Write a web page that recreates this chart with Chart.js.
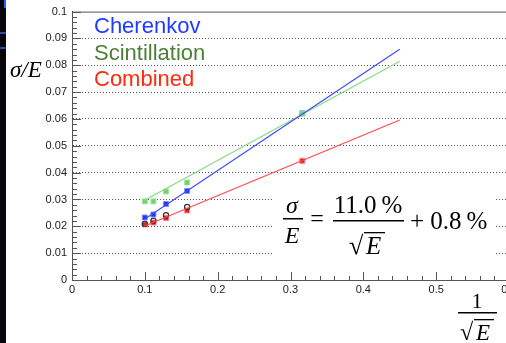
<!DOCTYPE html>
<html>
<head>
<meta charset="utf-8">
<script src="https://cdn.jsdelivr.net/npm/chart.js@4.4.1/dist/chart.umd.min.js"></script>
<style>
  html, body { margin: 0; padding: 0; background: #fff; overflow: hidden; }
  #wrap { position: relative; width: 506px; height: 343px; overflow: hidden; }
  #strip { position: absolute; left: 0; top: 0; width: 6px; height: 343px; background: #05070d; }
  .blue { position: absolute; left: 0; width: 6px; height: 2px; background: #2c4a9c; }
</style>
</head>
<body>
<div id="wrap">
  <canvas id="c" width="530" height="343"></canvas>
  <div id="strip"></div>
  <div class="blue" style="top:32px"></div>
  <div class="blue" style="top:47px"></div>
  <div class="blue" style="top:0;left:4px;width:2px;height:8px;background:#2a5cff"></div>
</div>
<script>
// 1/sqrt(E) for the measured energies
const invSqrtE = [0.1, 0.1118, 0.1291, 0.1581, 0.3162];
const cherenkov = [0.0233, 0.0244, 0.0283, 0.0332, 0.0621];
const scintillation = [0.0293, 0.0293, 0.0330, 0.0363, 0.0620];
const combined = [0.0207, 0.0214, 0.0231, 0.0259, 0.0444];
const combinedOpen = [0.0209, 0.0221, 0.0241, 0.0272, null];

// fit lines: x range and y at both ends
const fitRange = [0.099, 0.45];
const cherenkovFit = [0.0225, 0.0860];
const scintillationFit = [0.0296, 0.0815];
const combinedFit = [0.0200, 0.0596];

const xTicks = [0, 0.1, 0.2, 0.3, 0.4, 0.5, 0.6];
const yTicks = [0, 0.01, 0.02, 0.03, 0.04, 0.05, 0.06, 0.07, 0.08, 0.09, 0.1];

const pts = (ys) => ys.map((y, i) => ({ x: invSqrtE[i], y: y })).filter((p) => p.y !== null);
const fit = (ys) => fitRange.map((x, i) => ({ x: x, y: ys[i] }));

const serif = "'Liberation Serif', 'Times New Roman', serif";
const sans = "'Liberation Sans', Arial, Helvetica, sans-serif";

// ROOT style frame, tick marks, legend and formula
const rootDecor = {
  id: "rootDecor",
  beforeDatasetsDraw(chart) {
    const ctx = chart.ctx;
    ctx.save();
    ctx.fillStyle = "#fff";
    ctx.fillRect(274, 182, 222, 77);
    ctx.restore();
  },
  afterDraw(chart) {
    const ctx = chart.ctx;
    const xs = chart.scales.x;
    const ys = chart.scales.y;
    const a = chart.chartArea;
    ctx.save();
    ctx.strokeStyle = "#555";
    ctx.lineWidth = 1;
    ctx.setLineDash([]);
    // frame: top and left
    ctx.beginPath();
    ctx.moveTo(a.left, a.top + 0.5);
    ctx.lineTo(a.right, a.top + 0.5);
    ctx.moveTo(a.left + 0.5, a.top);
    ctx.lineTo(a.left + 0.5, a.bottom);
    ctx.stroke();
    // x ticks
    for (let i = 0; i <= 30; i++) {
      const px = Math.round(xs.getPixelForValue(i * 0.02)) + 0.5;
      const len = i % 5 === 0 ? 8 : 4;
      ctx.beginPath();
      ctx.moveTo(px, a.bottom);
      ctx.lineTo(px, a.bottom - len);
      ctx.stroke();
    }
    // y ticks
    for (let i = 0; i <= 50; i++) {
      const py = Math.round(ys.getPixelForValue(i * 0.002)) + 0.5;
      const len = i % 5 === 0 ? 9 : 5;
      ctx.beginPath();
      ctx.moveTo(a.left, py);
      ctx.lineTo(a.left + len, py);
      ctx.stroke();
    }

    // legend
    ctx.textBaseline = "alphabetic";
    ctx.textAlign = "left";
    ctx.font = "22px " + sans;
    ctx.fillStyle = "#1f3bff";
    ctx.fillText("Cherenkov", 94, 33);
    ctx.fillStyle = "#4c7f38";
    ctx.fillText("Scintillation", 94, 60);
    ctx.fillStyle = "#ff2a10";
    ctx.fillText("Combined", 94, 86);

    // y title
    ctx.fillStyle = "#000";
    ctx.font = "italic 23px " + serif;
    ctx.fillText("\u03c3/E", 10, 77);

    // formula
    ctx.textAlign = "center";
    ctx.font = "italic 24px " + serif;
    ctx.fillText("\u03c3", 292, 213);
    ctx.fillText("E", 292, 243);
    ctx.fillRect(283, 218, 20, 1.5);
    ctx.font = "24px " + serif;
    ctx.fillText("=", 317, 226);
    ctx.font = "25px " + serif;
    ctx.fillText("11.0\u2009%", 368, 213);
    ctx.fillRect(333, 220, 71, 1.5);
    ctx.textAlign = "left";
    ctx.font = "26px " + serif;
    ctx.fillText("\u221a", 349, 254);
    ctx.font = "italic 25px " + serif;
    ctx.fillText("E", 366, 254);
    ctx.fillRect(364, 232, 21, 1.3);
    ctx.font = "25px " + serif;
    ctx.fillText("+ 0.8\u2009%", 410, 229);

    // x title
    ctx.textAlign = "center";
    ctx.font = "22px " + serif;
    ctx.fillText("1", 477, 308);
    ctx.fillRect(458, 312, 39, 1.5);
    ctx.textAlign = "left";
    ctx.font = "24px " + serif;
    ctx.fillText("\u221a", 460, 340);
    ctx.font = "italic 23px " + serif;
    ctx.fillText("E", 476, 340);
    ctx.fillRect(474, 319, 20, 1.3);
    ctx.restore();
  },
};

new Chart(document.getElementById("c"), {
  type: "scatter",
  data: {
    datasets: [
      {
        data: fit(cherenkovFit),
        showLine: true,
        borderColor: "#3d4dff",
        borderWidth: 1.2,
        pointRadius: 0,
      },
      {
        data: fit(scintillationFit),
        showLine: true,
        borderColor: "#86d986",
        borderWidth: 1.2,
        pointRadius: 0,
      },
      {
        data: fit(combinedFit),
        showLine: true,
        borderColor: "#ff4a4a",
        borderWidth: 1.2,
        pointRadius: 0,
      },
      {
        data: pts(scintillation),
        pointStyle: "rect",
        pointRadius: 3.5,
        backgroundColor: "#6fd36f",
        borderColor: "#9be39b",
        borderWidth: 1,
      },
      {
        data: pts(cherenkov),
        pointStyle: "rect",
        pointRadius: 3.5,
        backgroundColor: "#1f33f0",
        borderColor: "#7f8cff",
        borderWidth: 1,
      },
      {
        data: pts(combinedOpen),
        pointStyle: "circle",
        pointRadius: 2.6,
        backgroundColor: "rgba(255,255,255,0)",
        borderColor: "#333",
        borderWidth: 1.2,
      },
      {
        data: pts(combined),
        pointStyle: "rect",
        pointRadius: 3.5,
        backgroundColor: "#e8201c",
        borderColor: "#ff8080",
        borderWidth: 1,
      },
    ],
  },
  options: {
    responsive: false,
    animation: false,
    events: [],
    layout: { padding: { left: 0, top: 11, right: 21, bottom: 0 } },
    plugins: {
      legend: { display: false },
      tooltip: { enabled: false },
    },
    scales: {
      x: {
        type: "linear",
        min: 0,
        max: 0.6,
        afterFit: (s) => { s.height = 63; },
        afterBuildTicks: (s) => { s.ticks = xTicks.map((v) => ({ value: v })); },
        grid: { display: false, drawTicks: false },
        border: { color: "#555", width: 1 },
        ticks: {
          padding: 3,
          color: "#222",
          font: { family: sans, size: 11 },
          callback: (v) => (v === 0 ? "0" : v.toFixed(1)),
        },
      },
      y: {
        min: 0,
        max: 0.1,
        afterFit: (s) => { s.width = 72; },
        afterBuildTicks: (s) => { s.ticks = yTicks.map((v) => ({ value: v })); },
        grid: {
          drawTicks: false,
          color: (c) => (c.tick && (c.tick.value === 0 || c.tick.value === 0.1) ? "rgba(0,0,0,0)" : "#555"),
          lineWidth: 1,
        },
        border: { color: "#555", width: 1, dash: [1, 2] },
        ticks: {
          padding: 5,
          color: "#222",
          font: { family: sans, size: 11 },
          callback: (v) => (v === 0 ? "0" : String(+v.toFixed(2))),
        },
      },
    },
  },
  plugins: [rootDecor],
});
</script>
</body>
</html>
